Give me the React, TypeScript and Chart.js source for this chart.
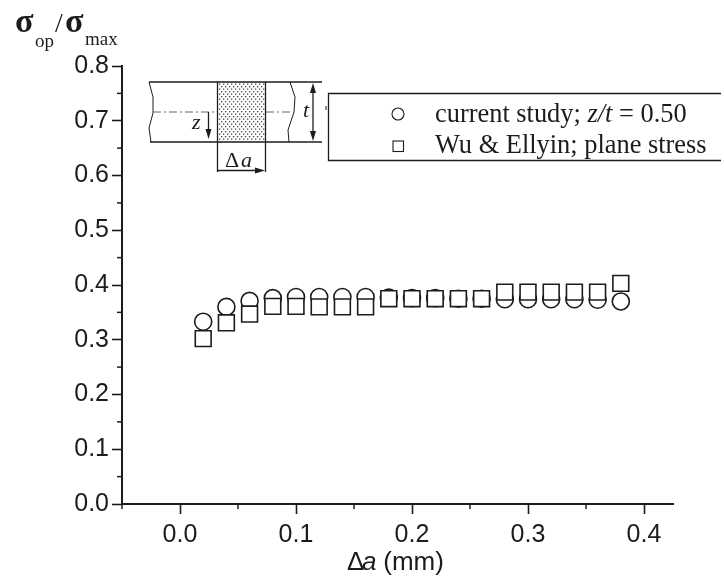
import React, { useEffect, useRef } from "react";
import { Chart, registerables } from "chart.js";

Chart.register(...registerables);

const crackGrowth = [0.02, 0.04, 0.06, 0.08, 0.1, 0.12, 0.14, 0.16, 0.18, 0.2, 0.22, 0.24, 0.26, 0.28, 0.3, 0.32, 0.34, 0.36, 0.38];
const currentStudy = [0.333, 0.36, 0.371, 0.376, 0.378, 0.378, 0.378, 0.378, 0.377, 0.376, 0.376, 0.375, 0.375, 0.374, 0.374, 0.374, 0.374, 0.373, 0.37];
const wuEllyin = [0.302, 0.331, 0.347, 0.361, 0.361, 0.36, 0.36, 0.36, 0.375, 0.375, 0.375, 0.375, 0.375, 0.387, 0.387, 0.387, 0.387, 0.387, 0.403];
const xMajorTicks = [0, 0.1, 0.2, 0.3, 0.4];
const xMinorTicks = [-0.05, 0.05, 0.15, 0.25, 0.35];
const yMajorTicks = [0, 0.1, 0.2, 0.3, 0.4, 0.5, 0.6, 0.7, 0.8];
const yMinorTicks = [0.05, 0.15, 0.25, 0.35, 0.45, 0.55, 0.65, 0.75];
const legendLabels = ["current study; ", "z/t", " = 0.50", "Wu & Ellyin; plane stress"];

const INK = "#1c1c1c";
const SERIF = '"Liberation Serif", serif';
const SANS = '"Liberation Sans", Arial, sans-serif';

function line(ctx: CanvasRenderingContext2D, pts: number[][], width = 1.3) {
  ctx.lineWidth = width;
  ctx.beginPath();
  pts.forEach(([x, y], i) => (i ? ctx.lineTo(x, y) : ctx.moveTo(x, y)));
  ctx.stroke();
}

function arrowHead(ctx: CanvasRenderingContext2D, x: number, y: number, dx: number, dy: number) {
  const l = 10, w = 3;
  ctx.beginPath();
  ctx.moveTo(x, y);
  ctx.lineTo(x - dx * l - dy * w, y - dy * l - dx * w);
  ctx.lineTo(x - dx * l + dy * w, y - dy * l + dx * w);
  ctx.closePath();
  ctx.fill();
}

function drawDiagram(ctx: CanvasRenderingContext2D) {
  ctx.strokeStyle = INK;
  ctx.fillStyle = INK;
  ctx.setLineDash([]);
  line(ctx, [[149, 82], [322, 82]]);
  line(ctx, [[150, 142], [322, 142]]);
  line(ctx, [[149, 82], [153, 97], [153, 113], [149, 128], [151, 142]], 1);
  line(ctx, [[290, 82], [295, 97], [294, 112], [288, 130], [289, 142]], 1);
  ctx.strokeStyle = "#666";
  ctx.setLineDash([8, 3, 2, 3]);
  line(ctx, [[153, 112], [216, 112]], 1);
  line(ctx, [[266, 112], [290, 112]], 1);
  ctx.setLineDash([]);
  ctx.strokeStyle = INK;
  ctx.fillStyle = "#444";
  for (let row = 0; row * 2.5 < 59; row++) {
    for (let col = row % 2 ? 2 : 0; 219 + col < 265; col += 4) {
      ctx.fillRect(219 + col, 83.5 + row * 2.5, 1.3, 1.3);
    }
  }
  ctx.fillStyle = INK;
  line(ctx, [[217.5, 82], [217.5, 172]]);
  line(ctx, [[265.5, 82], [265.5, 172]]);
  line(ctx, [[218, 170.5], [258, 170.5]]);
  arrowHead(ctx, 265, 170.5, 1, 0);
  line(ctx, [[208.5, 112], [208.5, 132]]);
  arrowHead(ctx, 208.5, 139, 0, 1);
  line(ctx, [[313, 88], [313, 136]]);
  arrowHead(ctx, 313, 83, 0, -1);
  arrowHead(ctx, 313, 141, 0, 1);
  line(ctx, [[326, 106], [326, 110]], 1);
  ctx.textBaseline = "alphabetic";
  ctx.textAlign = "left";
  ctx.font = `italic 22px ${SERIF}`;
  ctx.fillText("z", 192, 129);
  ctx.fillText("t", 303, 117);
  ctx.font = `22px ${SERIF}`;
  ctx.fillText("Δ", 225, 167);
  ctx.font = `italic 22px ${SERIF}`;
  ctx.fillText("a", 241, 167);
}

function drawLegend(ctx: CanvasRenderingContext2D) {
  ctx.fillStyle = "#fff";
  ctx.fillRect(328, 93, 396, 67);
  ctx.strokeStyle = INK;
  line(ctx, [[721, 93.5], [328.5, 93.5], [328.5, 160.5], [721, 160.5]]);
  ctx.lineWidth = 1.1;
  ctx.beginPath();
  ctx.arc(398, 114, 6, 0, Math.PI * 2);
  ctx.stroke();
  ctx.strokeRect(393, 141, 10.5, 10.5);
  ctx.fillStyle = INK;
  ctx.textAlign = "left";
  ctx.textBaseline = "alphabetic";
  let x = 435;
  ctx.font = `26.4px ${SERIF}`;
  ctx.fillText(legendLabels[0], x, 122);
  x += ctx.measureText(legendLabels[0]).width;
  ctx.font = `italic 26.4px ${SERIF}`;
  ctx.fillText(legendLabels[1], x, 122);
  x += ctx.measureText(legendLabels[1]).width;
  ctx.font = `26.4px ${SERIF}`;
  ctx.fillText(legendLabels[2], x, 122);
  ctx.fillText(legendLabels[3], 435, 153);
}

function drawTitles(ctx: CanvasRenderingContext2D) {
  ctx.fillStyle = INK;
  ctx.textAlign = "left";
  ctx.textBaseline = "alphabetic";
  ctx.font = `bold 34px ${SERIF}`;
  ctx.fillText("σ", 15, 32);
  ctx.fillText("σ", 65, 32);
  ctx.font = `28px ${SERIF}`;
  ctx.fillText("/", 55, 32);
  ctx.font = `19px ${SERIF}`;
  ctx.fillText("op", 35, 47);
  ctx.fillText("max", 85, 45);
  ctx.font = `26px ${SANS}`;
  ctx.fillText("Δ", 347, 570);
  ctx.font = `italic 26px ${SANS}`;
  ctx.fillText("a", 362, 570);
  ctx.font = `26px ${SANS}`;
  ctx.fillText(" (mm)", 376, 570);
}

const extras = {
  id: "extras",
  afterDraw(chart: any) {
    const { ctx, scales } = chart;
    const { left, bottom } = chart.chartArea;
    ctx.save();
    ctx.strokeStyle = INK;
    xMinorTicks.forEach((v) => {
      const px = scales.x.getPixelForValue(v);
      line(ctx, [[px, bottom], [px, bottom + 5]], 1.5);
    });
    yMinorTicks.forEach((v) => {
      const py = scales.y.getPixelForValue(v);
      line(ctx, [[left - 5, py], [left, py]], 1.5);
    });
    drawDiagram(ctx);
    drawLegend(ctx);
    drawTitles(ctx);
    ctx.restore();
  },
};

export default function App() {
  const ref = useRef<HTMLCanvasElement>(null);
  useEffect(() => {
    const axisCommon = {
      border: { display: true, color: INK, width: 2 },
      grid: { display: true, drawOnChartArea: false, drawTicks: true, tickLength: 10, tickWidth: 1.6, tickColor: INK },
    };
    const chart = new Chart(ref.current!, {
      type: "scatter",
      plugins: [extras],
      data: {
        datasets: [
          {
            label: "current study; z/t = 0.50",
            data: crackGrowth.map((x, i) => ({ x, y: currentStudy[i] })),
            pointStyle: "circle",
            pointRadius: 8.5,
            pointBorderWidth: 1.6,
            pointBackgroundColor: "#fff",
            pointBorderColor: INK,
            order: 1,
          },
          {
            label: "Wu & Ellyin; plane stress",
            data: crackGrowth.map((x, i) => ({ x, y: wuEllyin[i] })),
            pointStyle: "rect",
            pointRadius: 11.2,
            pointBorderWidth: 1.6,
            pointBackgroundColor: "#fff",
            pointBorderColor: INK,
            order: 0,
          },
        ],
      },
      options: {
        responsive: false,
        animation: false,
        layout: { padding: { top: 66, right: 51, left: 0, bottom: 0 } },
        plugins: { legend: { display: false }, tooltip: { enabled: false } },
        scales: {
          x: {
            type: "linear",
            min: -0.05,
            max: 0.425,
            ...axisCommon,
            afterBuildTicks: (s: any) => { s.ticks = xMajorTicks.map((value) => ({ value })); },
            afterFit: (s: any) => { s.height = 72; },
            ticks: {
              autoSkip: false,
              maxRotation: 0,
              padding: 6,
              color: INK,
              font: { family: SANS, size: 25 },
              callback: (v: any) => Number(v).toFixed(1),
            },
          },
          y: {
            type: "linear",
            min: 0,
            max: 0.8,
            ...axisCommon,
            afterBuildTicks: (s: any) => { s.ticks = yMajorTicks.map((value) => ({ value })); },
            afterFit: (s: any) => { s.width = 122; },
            ticks: {
              autoSkip: false,
              padding: 3,
              color: INK,
              font: { family: SANS, size: 25 },
              callback: (v: any) => Number(v).toFixed(1),
            },
          },
        },
      },
    } as any);
    return () => chart.destroy();
  }, []);
  return (
    <canvas
      ref={ref}
      width={724}
      height={576}
      style={{ position: "absolute", left: 0, top: 0, display: "block" }}
    />
  );
}
